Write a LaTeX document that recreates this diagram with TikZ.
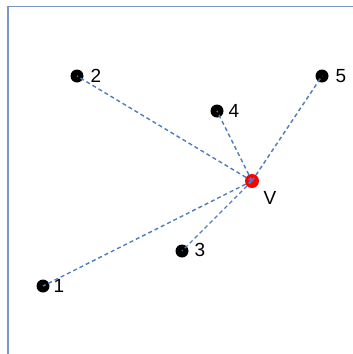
\documentclass[tikz,border=0pt]{standalone}
\usepackage{fontspec}
\setmainfont{Liberation Sans}
\begin{document}
\begin{tikzpicture}[x=1pt,y=-1pt,
  pt/.style={circle,fill=black,inner sep=0pt,minimum size=13pt},
  vpt/.style={circle,fill=red,inner sep=0pt,minimum size=14pt},
  lbl/.style={font=\fontsize{19}{22}\selectfont,inner sep=0pt},
  link/.style={color={rgb,255:red,79;green,125;blue,189},dash pattern=on 4pt off 3pt,line width=1.4pt}]
\useasboundingbox (0,0) rectangle (353,354);
\draw[color={rgb,255:red,120;green,150;blue,200},line width=1.5pt] (8,360) -- (8,6.5) -- (360,6.5);
\node[pt] (n1) at (43,286) {};
\node[pt] (n2) at (77,76) {};
\node[pt] (n3) at (182,251) {};
\node[pt] (n4) at (217,111) {};
\node[pt] (n5) at (322,76) {};
\node[vpt] (v) at (252,181) {};
\node[lbl] (l1) at (59,286) {1};
\node[lbl] (l2) at (96,76) {2};
\node[lbl] (l3) at (200,250) {3};
\node[lbl] (l4) at (234,111) {4};
\node[lbl] (l5) at (341,76) {5};
\node[lbl] (lv) at (270,198) {V};
\foreach \n in {n1,n2,n3,n4,n5} \draw[link] (v.center) -- (\n.center);
\end{tikzpicture}
\end{document}
